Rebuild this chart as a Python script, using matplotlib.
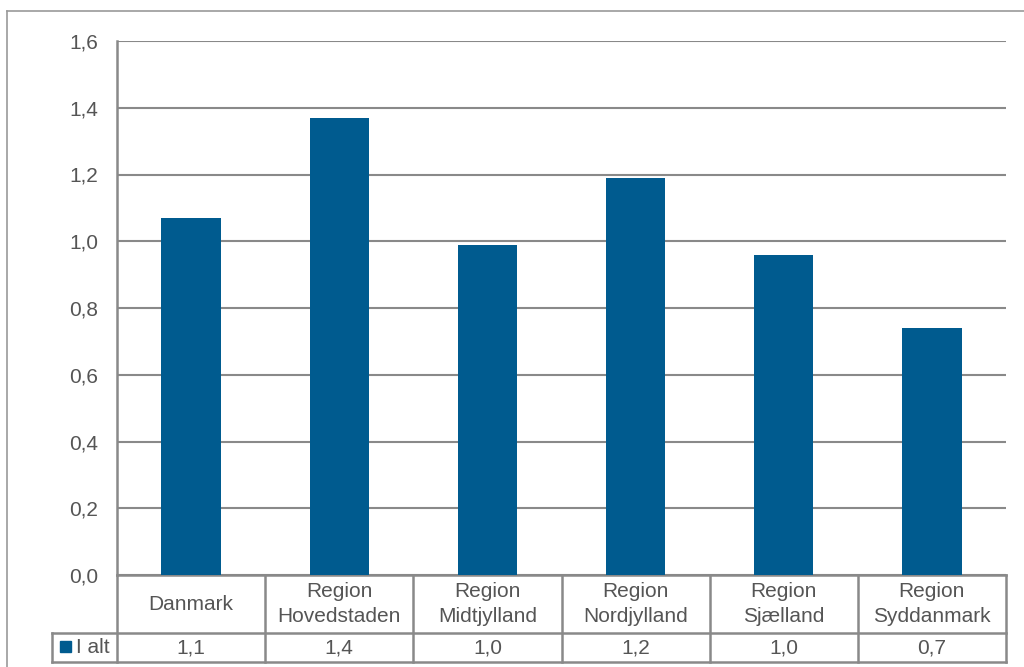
import matplotlib
matplotlib.use('Agg')
import matplotlib.pyplot as plt
from matplotlib.transforms import blended_transform_factory
from matplotlib.patches import Rectangle
from matplotlib.lines import Line2D
import numpy as np

plt.rcParams['font.family'] = ['Liberation Sans', 'DejaVu Sans']

# data
kategorier = ['Danmark', 'Region\nHovedstaden', 'Region\nMidtjylland', 'Region\nNordjylland',
              'Region\nSjælland', 'Region\nSyddanmark']
vaerdier = [1.07, 1.37, 0.99, 1.19, 0.96, 0.74]
tabel_tekst = ['1,1', '1,4', '1,0', '1,2', '1,0', '0,7']
serie_navn = 'I alt'
yticks = [0.0, 0.2, 0.4, 0.6, 0.8, 1.0, 1.2, 1.4, 1.6]

blaa = '#005B8F'
graa = '#898989'
tekst = '#555555'

fig = plt.figure(figsize=(10.24, 6.67), dpi=100)
ax = fig.add_axes([117/1024, 92/667, 889/1024, 534/667])

x = np.arange(len(kategorier))
ax.bar(x, vaerdier, width=0.4, color=blaa, zorder=3)

ax.set_xlim(-0.5, len(kategorier) - 0.5)
ax.set_ylim(0, 1.6)
ax.set_yticks(yticks)
ax.set_yticklabels([f'{v:.1f}'.replace('.', ',') for v in yticks])
ax.tick_params(axis='y', length=0, pad=13.5, labelsize=15, labelcolor=tekst)
ax.set_xticks([])
ax.grid(axis='y', color=graa, linewidth=1.5, zorder=0)
for s in ['top', 'right']:
    ax.spines[s].set_visible(False)
ax.spines['left'].set_color(graa)
ax.spines['left'].set_linewidth(1.8)
ax.spines['bottom'].set_color(graa)
ax.spines['bottom'].set_linewidth(1.8)

# data table below the axes
tr = blended_transform_factory(ax.transData, ax.transAxes)
h = 534
y_mid = -58 / h
y_bot = -87 / h
x_lab = -0.5 - 65 / (889 / 6)
kw = dict(color=graa, linewidth=1.8, transform=tr, clip_on=False)
for xb in np.arange(-0.5, len(kategorier), 1.0):
    ax.add_line(Line2D([xb, xb], [0, y_bot], **kw))
ax.add_line(Line2D([x_lab, len(kategorier) - 0.5], [y_mid, y_mid], **kw))
ax.add_line(Line2D([x_lab, len(kategorier) - 0.5], [y_bot, y_bot], **kw))
ax.add_line(Line2D([x_lab, x_lab], [y_mid, y_bot], **kw))

for i, k in enumerate(kategorier):
    ax.text(i, y_mid / 2, k, transform=tr, ha='center', va='center',
            fontsize=15, color=tekst, linespacing=1.35)
    ax.text(i, (y_mid + y_bot) / 2, tabel_tekst[i], transform=tr, ha='center',
            va='center', fontsize=15, color=tekst)

# legend key in row label
fig.patches.append(Rectangle((60/1024, (667-652)/667), 11/1024, 11/667,
                             color=blaa, transform=fig.transFigure))
fig.text(76/1024, (667-647.5)/667, serie_navn, ha='left', va='center',
         fontsize=15, color=tekst)

# outer frame
fig.add_artist(Line2D([7/1024, 7/1024], [0, (667-11)/667], color='#9a9a9a',
                      linewidth=1.2, transform=fig.transFigure))
fig.add_artist(Line2D([7/1024, 1], [(667-11)/667, (667-11)/667], color='#9a9a9a',
                      linewidth=1.2, transform=fig.transFigure))

fig.savefig('out.png', dpi=100)
